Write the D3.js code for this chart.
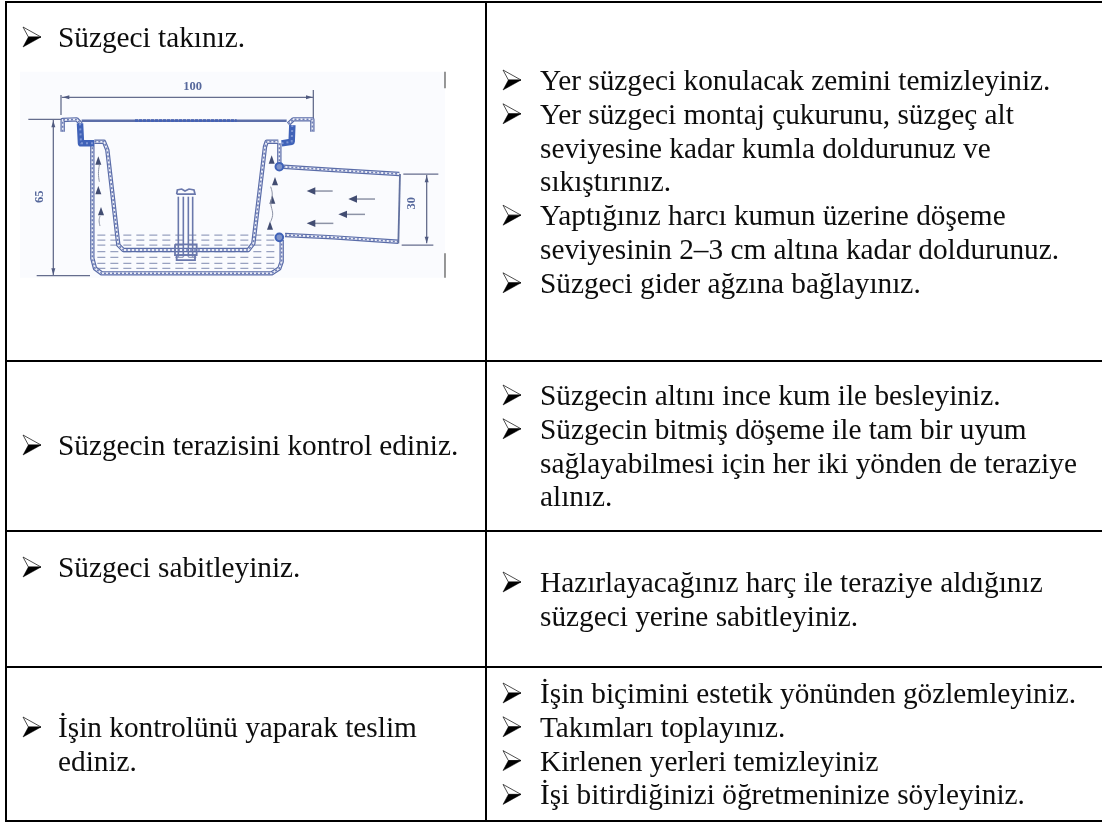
<!DOCTYPE html>
<html lang="tr">
<head>
<meta charset="utf-8">
<title>Süzgeci takınız</title>
<script src="https://cdn.jsdelivr.net/npm/d3@7"></script>
<style>
  html, body { margin: 0; padding: 0; background: #fff; }
  svg { display: block; }
  .cell-text { font-family: "Liberation Serif", serif; font-size: 29.3px; fill: #0b0b0b; }
  .dim-text { font-family: "Liberation Serif", serif; font-size: 12.5px; font-weight: bold; fill: #56689c; text-anchor: middle; }
</style>
</head>
<body>
<script>
// table text, one entry per bullet, each bullet a list of lines
const leftCells = [
  [['Süzgeci takınız.']],
  [['Süzgecin terazisini kontrol ediniz.']],
  [['Süzgeci sabitleyiniz.']],
  [['İşin kontrolünü yaparak teslim', 'ediniz.']]
];
const rightCells = [
  [
    ['Yer süzgeci konulacak zemini temizleyiniz.'],
    ['Yer süzgeci montaj çukurunu, süzgeç alt', 'seviyesine kadar kumla doldurunuz ve', 'sıkıştırınız.'],
    ['Yaptığınız harcı kumun üzerine döşeme', 'seviyesinin 2–3 cm altına kadar doldurunuz.'],
    ['Süzgeci gider ağzına bağlayınız.']
  ],
  [
    ['Süzgecin altını ince kum ile besleyiniz.'],
    ['Süzgecin bitmiş döşeme ile tam bir uyum', 'sağlayabilmesi için her iki yönden de teraziye', 'alınız.']
  ],
  [['Hazırlayacağınız harç ile teraziye aldığınız', 'süzgeci yerine sabitleyiniz.']],
  [
    ['İşin biçimini estetik yönünden gözlemleyiniz.'],
    ['Takımları toplayınız.'],
    ['Kirlenen yerleri temizleyiniz'],
    ['İşi bitirdiğinizi öğretmeninize söyleyiniz.']
  ]
];

// bullet arrow in its own unit square
const bulletUpper = [[0, 0], [1, 0.5], [0.3, 0.5]];
const bulletLower = [[1, 0.5], [0.3, 0.5], [0, 1]];

// diagram geometry, in drawing units
const dimLines = [
  [[185, 292], [940, 292]],
  [[183, 285], [183, 345]],
  [[940, 270], [940, 355]],
  [[160, 360], [160, 825]],
  [[85, 358], [185, 358]],
  [[110, 827], [270, 827]],
  [[1280, 525], [1280, 730]],
  [[1210, 522], [1315, 522]],
  [[1205, 735], [1300, 735]]
];
const dimArrows = [
  [[188, 292], [208, 286], [208, 298]],
  [[938, 292], [918, 286], [918, 298]],
  [[160, 362], [154, 382], [166, 382]],
  [[160, 825], [154, 805], [166, 805]],
  [[1280, 527], [1274, 547], [1286, 547]],
  [[1280, 730], [1274, 710], [1286, 710]]
];
const wallPaths = [
  [[277, 430], [277, 775], [285, 805], [305, 820], [815, 820], [838, 805], [845, 785], [845, 720]],
  [[283, 425], [312, 425], [322, 450], [355, 735], [370, 750], [745, 750], [760, 730], [795, 440], [800, 425], [835, 425]],
  [[838, 430], [838, 495]],
  [[850, 500], [1000, 510], [1198, 522]],
  [[855, 705], [1000, 712], [1195, 725]],
  [[188, 395], [188, 360], [230, 358], [243, 372]],
  [[865, 372], [880, 358], [937, 358], [937, 395]]
];
const plateLine = [[245, 362], [860, 362]];
const plateDark = [[405, 362], [710, 362]];
const pipeEnd = [[1200, 522], [1195, 730]];
const collars = [
  [[240, 370], [243, 430], [282, 430]],
  [[877, 375], [875, 425], [845, 430]]
];
const joints = [[838, 500], [838, 712]];
const boltLines = [
  [[535, 590], [535, 770]],
  [[550, 590], [550, 770]],
  [[565, 590], [565, 770]],
  [[578, 590], [578, 770]]
];
const boltHead = [[530, 582], [532, 570], [545, 567], [555, 573], [567, 567], [582, 570], [585, 582], [530, 582]];
const nuts = [
  [[525, 733], [590, 733], [590, 765], [525, 765], [525, 733]],
  [[530, 765], [585, 765], [585, 780], [530, 780], [530, 765]]
];
const waterRows = [705, 720, 735, 755, 772, 790, 805];
const flowArrows = [
  [920, 573, 998],
  [1045, 597, 1125],
  [1015, 643, 1095],
  [920, 670, 1000]
];
const wallMarks = [[295, 483], [295, 572], [303, 635], [815, 480], [825, 545], [817, 600], [810, 678]];
const wallWiggles = [
  [[298, 495], [294, 520], [298, 545]],
  [[300, 648], [296, 662], [300, 678]],
  [[812, 560], [820, 585], [808, 610], [822, 640], [812, 665]]
];
const scanEdges = [
  [[1335, 215], [1335, 265]],
  [[1335, 760], [1335, 833]]
];

const width = 1102;
const height = 822;
const rowEdges = [2, 361, 531, 667, 821];
const leftEdge = 6;
const middleEdge = 486;
const leftBaselines = [47, 455, 577, 737];
const rightBaselines = [90, 405, 592, 703];
const lineStep = 33.8;
const leftColumn = {bullet: 23, text: 58};
const rightColumn = {bullet: 503, text: 540};

const svg = d3.select('body').append('svg')
  .attr('width', width)
  .attr('height', height)
  .attr('viewBox', [0, 0, width, height]);

const defs = svg.append('defs');
defs.append('filter').attr('id', 'soft')
  .append('feGaussianBlur').attr('stdDeviation', 0.6);
defs.append('filter').attr('id', 'softText')
  .append('feGaussianBlur').attr('stdDeviation', 0.3);

// drawing units to page
const x = d3.scaleLinear().domain([60, 1335]).range([20, 445]);
const y = d3.scaleLinear().domain([215, 833]).range([71.7, 277.7]);
const line = d3.line().x(d => x(d[0])).y(d => y(d[1]));

const drawing = svg.append('g').attr('filter', 'url(#soft)');

drawing.append('rect')
  .attr('x', x(60))
  .attr('y', y(215))
  .attr('width', x(1335) - x(60))
  .attr('height', y(833) - y(215))
  .attr('fill', '#fafbfe');

drawing.append('g')
  .selectAll('path')
  .data(waterRows)
  .join('path')
  .attr('d', d => line([[292, d], [832, d]]))
  .attr('fill', 'none')
  .attr('stroke', '#98a1c0')
  .attr('stroke-width', 1.3)
  .attr('stroke-dasharray', '8 5');

drawing.append('g')
  .selectAll('path')
  .data(dimLines)
  .join('path')
  .attr('d', line)
  .attr('fill', 'none')
  .attr('stroke', '#656d8d')
  .attr('stroke-width', 1.3);

drawing.append('g')
  .selectAll('path')
  .data(dimArrows)
  .join('path')
  .attr('d', d => line(d) + 'Z')
  .attr('fill', '#505a80');

// double walls with the hatching between
const walls = drawing.append('g').attr('fill', 'none').attr('stroke-linejoin', 'round');
walls.selectAll('.outer')
  .data(wallPaths)
  .join('path')
  .attr('class', 'outer')
  .attr('d', line)
  .attr('stroke', '#5a6ca8')
  .attr('stroke-width', 4.4);
walls.selectAll('.inner')
  .data(wallPaths)
  .join('path')
  .attr('class', 'inner')
  .attr('d', line)
  .attr('stroke', '#eef0f8')
  .attr('stroke-width', 2);
walls.selectAll('.hatch')
  .data(wallPaths)
  .join('path')
  .attr('class', 'hatch')
  .attr('d', line)
  .attr('stroke', '#6f7fb8')
  .attr('stroke-width', 1.6)
  .attr('stroke-dasharray', '2 2');

walls.append('path')
  .attr('d', line(plateLine))
  .attr('stroke', '#5c6ea8')
  .attr('stroke-width', 2.6);
walls.append('path')
  .attr('d', line(plateDark))
  .attr('stroke', '#4562b4')
  .attr('stroke-width', 2.8)
  .attr('stroke-dasharray', '3 1');
walls.append('path')
  .attr('d', line(pipeEnd))
  .attr('stroke', '#62719f')
  .attr('stroke-width', 1.8);

const collarMarks = drawing.append('g').attr('fill', 'none').attr('stroke-linejoin', 'round');
collarMarks.selectAll('.solid')
  .data(collars)
  .join('path')
  .attr('class', 'solid')
  .attr('d', line)
  .attr('stroke', '#3f62b8')
  .attr('stroke-width', 6.5);
collarMarks.selectAll('.mottle')
  .data(collars)
  .join('path')
  .attr('class', 'mottle')
  .attr('d', line)
  .attr('stroke', '#7f96d4')
  .attr('stroke-width', 2)
  .attr('stroke-dasharray', '2 3');

drawing.append('g')
  .selectAll('circle')
  .data(joints)
  .join('circle')
  .attr('cx', d => x(d[0]))
  .attr('cy', d => y(d[1]))
  .attr('r', 3.8)
  .attr('fill', '#7f93c9')
  .attr('stroke', '#3f62b8')
  .attr('stroke-width', 2);

const bolt = drawing.append('g').attr('fill', 'none').attr('stroke', '#6a78ac');
bolt.selectAll('.shaft')
  .data(boltLines)
  .join('path')
  .attr('class', 'shaft')
  .attr('d', line)
  .attr('stroke-width', 1.6);
bolt.append('path').attr('d', line(boltHead)).attr('stroke-width', 1.7);
bolt.selectAll('.nut')
  .data(nuts)
  .join('path')
  .attr('class', 'nut')
  .attr('d', line)
  .attr('stroke-width', 1.8);

const flows = drawing.append('g')
  .selectAll('g')
  .data(flowArrows)
  .join('g');
flows.append('path')
  .attr('d', d => line([[d[0] + 18, d[1]], [d[2], d[1]]]))
  .attr('stroke', '#8d93a6')
  .attr('stroke-width', 1.5);
flows.append('path')
  .attr('d', d => line([[d[0], d[1]], [d[0] + 26, d[1] - 11], [d[0] + 26, d[1] + 11]]) + 'Z')
  .attr('fill', '#434d72');

drawing.append('g')
  .selectAll('path')
  .data(wallMarks)
  .join('path')
  .attr('d', d => line([[d[0], d[1] - 14], [d[0] - 9, d[1] + 11], [d[0] + 9, d[1] + 11]]) + 'Z')
  .attr('fill', '#434d72');

drawing.append('g')
  .selectAll('path')
  .data(wallWiggles)
  .join('path')
  .attr('d', line.curve(d3.curveBasis))
  .attr('fill', 'none')
  .attr('stroke', '#8d93a6')
  .attr('stroke-width', 1);
line.curve(d3.curveLinear);

drawing.append('g')
  .selectAll('path')
  .data(scanEdges)
  .join('path')
  .attr('d', line)
  .attr('stroke', '#5f5f5f')
  .attr('stroke-width', 1.3);

const dimLabels = svg.append('g').attr('filter', 'url(#soft)');
dimLabels.append('text').attr('class', 'dim-text')
  .attr('x', x(578)).attr('y', y(270)).text('100');
dimLabels.append('text').attr('class', 'dim-text')
  .attr('transform', `translate(${x(128)},${y(590)}) rotate(-90)`).text('65');
dimLabels.append('text').attr('class', 'dim-text')
  .attr('transform', `translate(${x(1245)},${y(610)}) rotate(-90)`).text('30');

// table rules
const rules = svg.append('g').attr('stroke', '#000').attr('stroke-width', 2);
rules.selectAll('.row')
  .data(rowEdges)
  .join('line')
  .attr('class', 'row')
  .attr('x1', leftEdge - 1)
  .attr('x2', width)
  .attr('y1', d => d)
  .attr('y2', d => d);
rules.selectAll('.col')
  .data([leftEdge, middleEdge])
  .join('line')
  .attr('class', 'col')
  .attr('x1', d => d)
  .attr('x2', d => d)
  .attr('y1', rowEdges[0])
  .attr('y2', rowEdges[rowEdges.length - 1]);

// bullet arrow sits between the baseline and 20px above it
const bulletX = d3.scaleLinear().domain([0, 1]).range([0, 18]);
const bulletY = d3.scaleLinear().domain([0, 1]).range([-20, 0]);
const bulletLine = d3.line().x(d => bulletX(d[0])).y(d => bulletY(d[1]));

function drawColumn(cells, baselines, column) {
  const g = svg.append('g').attr('filter', 'url(#softText)');
  cells.forEach((items, row) => {
    let lineIndex = 0;
    items.forEach(lines => {
      const base = baselines[row] + lineIndex * lineStep;
      const bullet = g.append('g').attr('transform', `translate(${column.bullet},${base})`);
      bullet.append('path')
        .attr('d', bulletLine(bulletUpper) + 'Z')
        .attr('fill', '#fff')
        .attr('stroke', '#222')
        .attr('stroke-width', 0.8);
      bullet.append('path')
        .attr('d', bulletLine(bulletLower) + 'Z')
        .attr('fill', '#000')
        .attr('stroke', '#000')
        .attr('stroke-width', 0.5);
      g.selectAll(null)
        .data(lines)
        .enter()
        .append('text')
        .attr('class', 'cell-text')
        .attr('x', column.text)
        .attr('y', (d, i) => base + i * lineStep)
        .text(d => d);
      lineIndex += lines.length;
    });
  });
}

drawColumn(leftCells, leftBaselines, leftColumn);
drawColumn(rightCells, rightBaselines, rightColumn);
</script>
</body>
</html>
